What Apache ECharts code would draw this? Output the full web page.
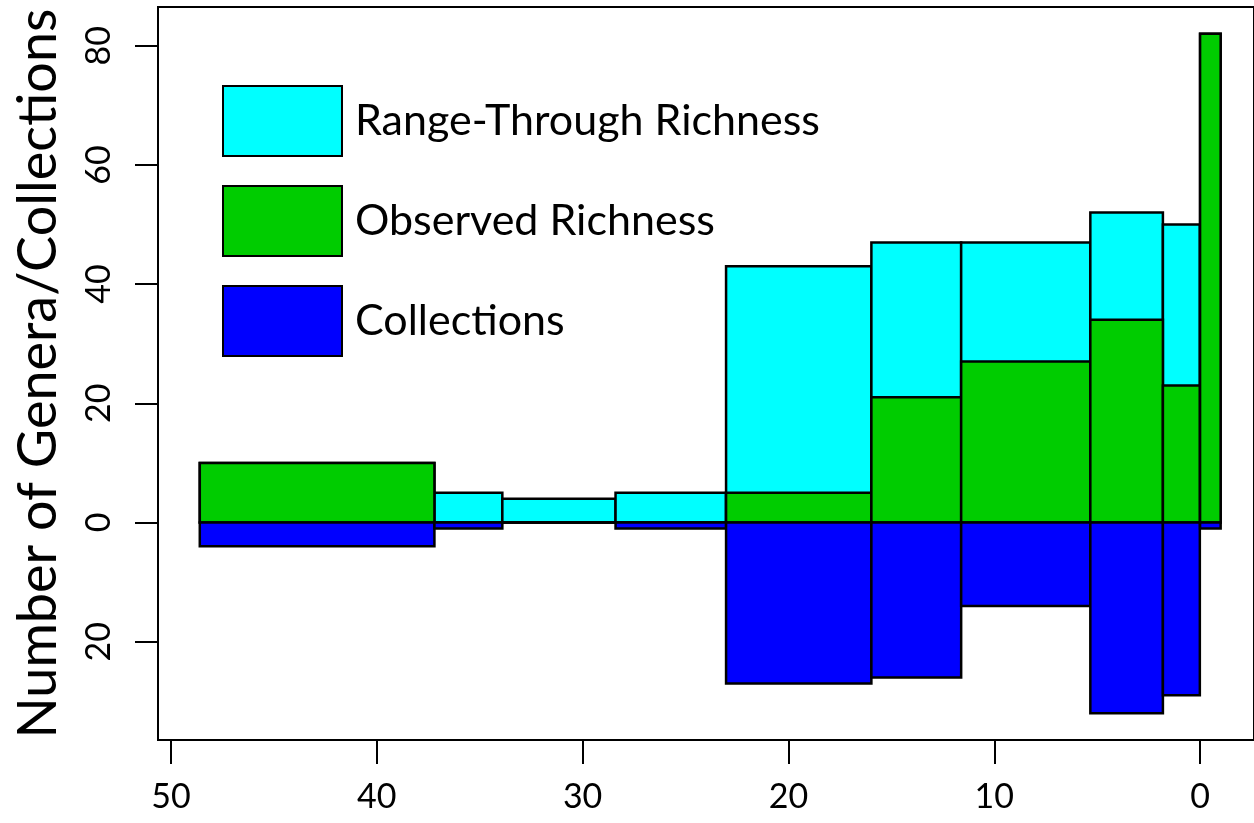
<!DOCTYPE html>
<html>
<head>
<meta charset="utf-8">
<script src="https://cdn.jsdelivr.net/npm/echarts@6/dist/echarts.min.js"></script>
<style>
html,body{margin:0;padding:0;background:#fff;}
#chart{width:1254px;height:823px;}
</style>
</head>
<body>
<div id="chart"></div>
<script>
// Interval boundaries (Ma)
const intervalStart = [48.6, 37.2, 33.9, 28.4, 23.03, 15.97, 11.608, 5.332, 1.806, 0];
const intervalEnd   = [37.2, 33.9, 28.4, 23.03, 15.97, 11.608, 5.332, 1.806, 0.0117, -1];
// Values
const rangeThrough = [10, 5, 4, 5, 43, 47, 47, 52, 50, 82];
const observed     = [10, 0, 0, 0, 5, 21, 27, 34, 23, 82];
const collections  = [4, 1, 0, 1, 27, 26, 14, 32, 29, 1];
// Ticks
const xTicks = [0, 10, 20, 30, 40, 50];
const yTicks = [-20, 0, 20, 40, 60, 80];

const FONT = 'Lato, "Open Sans", sans-serif';

function build(values, sign) {
  return values.map((v, i) => [intervalStart[i], intervalEnd[i], sign * v]);
}
function rectRenderer(fill) {
  return function (params, api) {
    const p0 = api.coord([api.value(0), api.value(2)]);
    const p1 = api.coord([api.value(1), 0]);
    return {
      type: 'rect',
      shape: {
        x: Math.min(p0[0], p1[0]),
        y: Math.min(p0[1], p1[1]),
        width: Math.abs(p1[0] - p0[0]),
        height: Math.abs(p1[1] - p0[1])
      },
      style: { fill: fill, stroke: '#000', lineWidth: 2.5 }
    };
  };
}

const colors = { rt: '#00FFFF', obs: '#00CC00', col: '#0000FF' };

const chart = echarts.init(document.getElementById('chart'), null, { renderer: 'canvas' });
chart.setOption({
  animation: false,
  backgroundColor: '#fff',
  grid: { left: 158, top: 7, right: -2, bottom: 83, show: true, borderColor: '#000', borderWidth: 2, containLabel: false },
  legend: {
    orient: 'vertical',
    left: 222,
    top: 85,
    padding: 0,
    itemWidth: 119,
    itemHeight: 70,
    itemGap: 28,
    icon: 'rect',
    selectedMode: false,
    itemStyle: { borderColor: '#000', borderWidth: 2 },
    textStyle: { fontFamily: FONT, fontSize: 43, color: '#000', padding: [0, 0, 0, 8] },
    data: ['Range-Through Richness', 'Observed Richness', 'Collections']
  },
  xAxis: {
    type: 'value',
    inverse: true,
    min: -2.62,
    max: 50.63,
    splitLine: { show: false },
    axisLine: { show: false, onZero: false },
    axisTick: { show: true, length: 24, inside: false, lineStyle: { color: '#000', width: 2 }, customValues: xTicks },
    axisLabel: { customValues: xTicks, fontFamily: FONT, fontSize: 34, color: '#000', margin: 40 }
  },
  yAxis: {
    type: 'value',
    min: -36.5,
    max: 86.5,
    name: 'Number of Genera/Collections',
    nameLocation: 'middle',
    nameRotate: 90,
    nameGap: 92,
    nameTextStyle: { fontFamily: FONT, fontSize: 54, color: '#000' },
    splitLine: { show: false },
    axisLine: { show: false, onZero: false },
    axisTick: { show: true, length: 23, lineStyle: { color: '#000', width: 2 }, customValues: yTicks },
    axisLabel: {
      customValues: yTicks, rotate: 90, fontFamily: FONT, fontSize: 34, color: '#000', margin: 42,
      formatter: v => String(Math.abs(v))
    }
  },
  series: [
    { name: 'Range-Through Richness', type: 'custom', itemStyle: { color: colors.rt }, renderItem: rectRenderer(colors.rt), encode: { x: [0, 1], y: 2 }, data: build(rangeThrough, 1) },
    { name: 'Observed Richness', type: 'custom', itemStyle: { color: colors.obs }, renderItem: rectRenderer(colors.obs), encode: { x: [0, 1], y: 2 }, data: build(observed, 1) },
    { name: 'Collections', type: 'custom', itemStyle: { color: colors.col }, renderItem: rectRenderer(colors.col), encode: { x: [0, 1], y: 2 }, data: build(collections, -1) }
  ]
});
</script>
</body>
</html>
